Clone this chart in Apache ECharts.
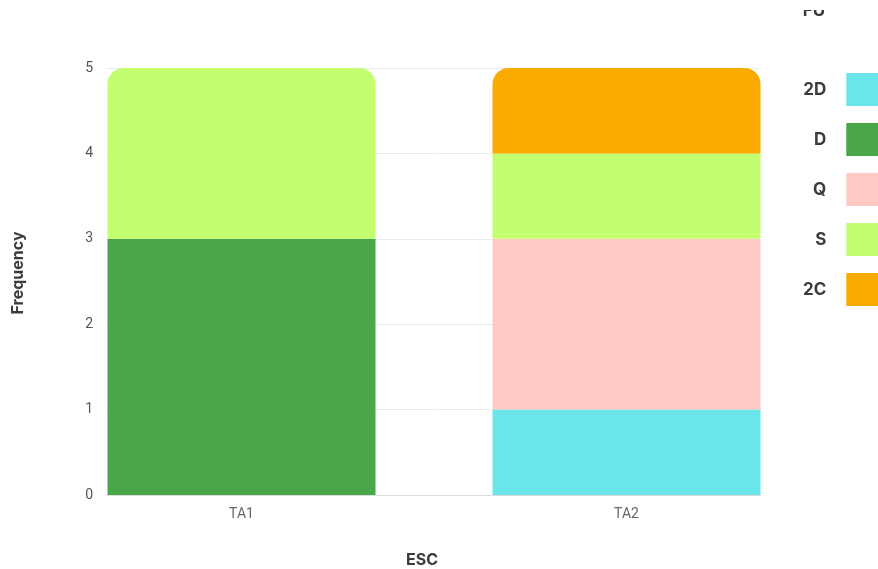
<!DOCTYPE html>
<html>
<head>
<meta charset="utf-8">
<script src="https://cdn.jsdelivr.net/npm/echarts@6/dist/echarts.min.js"></script>
<style>
  html, body { margin: 0; padding: 0; background: #fff; }
  #main { width: 878px; height: 569px; }
</style>
</head>
<body>
<div id="main"></div>
<script>
// data
const categories = ['TA1', 'TA2'];
const seriesNames = ['2D', 'D', 'Q', 'S', '2C'];
const val2D = [0, 1];
const valD = [3, 0];
const valQ = [0, 2];
const valS = [2, 1];
const val2C = [0, 1];
const yTicks = [0, 1, 2, 3, 4, 5];
const colors = ['#6ae6ea', '#49a74a', '#ffcac4', '#c3fe71', '#fbab00'];

const values = [val2D, valD, valQ, valS, val2C];

// top-most segment of each bar gets rounded corners
const topIndex = categories.map((c, ci) => {
  let top = -1;
  values.forEach((v, si) => { if (v[ci] > 0) top = si; });
  return top;
});

const series = seriesNames.map((name, si) => ({
  name: name,
  type: 'bar',
  stack: 'total',
  xAxisIndex: 1,
  yAxisIndex: 1,
  barWidth: 268,
  itemStyle: { color: colors[si] },
  data: values[si].map((v, ci) => ({
    value: v,
    itemStyle: { borderRadius: topIndex[ci] === si ? [16, 16, 0, 0] : 0 }
  }))
}));

const chart = echarts.init(document.getElementById('main'), null, { renderer: 'canvas' });

const option = {
  backgroundColor: '#ffffff',
  animation: false,
  grid: [
    { left: 107, right: 118, top: 68, bottom: 74 },
    { left: 49, width: 770, top: 68, bottom: 74 }
  ],
  xAxis: [
    {
      gridIndex: 0, type: 'category', data: categories,
      axisLine: { lineStyle: { color: '#dddddd' } },
      axisTick: { show: false }, axisLabel: { show: false }
    },
    {
      gridIndex: 1, type: 'category', data: categories,
      axisLine: { show: false }, axisTick: { show: false },
      axisLabel: { color: '#666666', fontFamily: 'Roboto', fontSize: 14, margin: 12 }
    }
  ],
  yAxis: [
    {
      gridIndex: 0, type: 'value', min: yTicks[0], max: yTicks[yTicks.length - 1], interval: 1,
      axisLine: { show: false }, axisTick: { show: false },
      axisLabel: { color: '#555555', fontFamily: 'Roboto', fontSize: 14, margin: 14, padding: [4, 0, 0, 0] },
      splitLine: { lineStyle: { color: '#ebebeb' } }
    },
    {
      gridIndex: 1, type: 'value', min: yTicks[0], max: yTicks[yTicks.length - 1], interval: 1,
      show: false, splitLine: { show: false }
    }
  ],
  legend: {
    orient: 'vertical',
    align: 'right',
    left: 798,
    top: 68,
    itemWidth: 40,
    itemHeight: 33,
    itemGap: 17,
    icon: 'rect',
    data: seriesNames,
    textStyle: { color: '#3d3a40', fontFamily: 'Inter', fontWeight: 'bold', fontSize: 17, padding: [0, 15, 0, 0] }
  },
  graphic: [
    {
      type: 'text', x: 18, y: 273, rotation: Math.PI / 2,
      style: { text: 'Frequency', fill: '#3d3a40', font: 'bold 16px Inter', align: 'center', verticalAlign: 'middle' }
    },
    {
      type: 'text', x: 422, y: 560,
      style: { text: 'ESC', fill: '#3d3a40', font: 'bold 16px Inter', align: 'center', verticalAlign: 'middle' }
    },
    {
      type: 'text', x: 814, y: 11,
      style: { text: 'FU', fill: '#3d3a40', font: 'bold 17px Inter', align: 'center', verticalAlign: 'middle' }
    },
    {
      type: 'rect', shape: { x: 790, y: 0, width: 60, height: 10 },
      style: { fill: '#ffffff' }, z: 100
    }
  ],
  series: series
};

chart.setOption(option);
</script>
</body>
</html>
